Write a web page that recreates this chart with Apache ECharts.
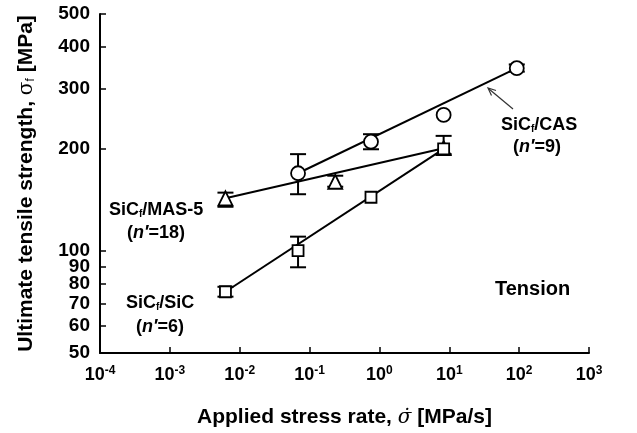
<!DOCTYPE html>
<html>
<head>
<meta charset="utf-8">
<script src="https://cdn.jsdelivr.net/npm/echarts@6/dist/echarts.min.js"></script>
<style>html,body{margin:0;padding:0;background:#fff;}#c{width:637px;height:433px;}</style>
</head>
<body>
<div id="c"></div>
<script>
// ---- data ----
const xTicks = [1e-4, 1e-3, 1e-2, 1e-1, 1e0, 1e1, 1e2, 1e3];
const yTicks = [50, 60, 70, 80, 90, 100, 200, 300, 400, 500];
// [stress rate, strength]
const casPoints = [[0.0684, 169.5], [0.757, 210], [8.3, 252], [92.5, 346]];
const masPoints = [[0.00625, 143], [0.233, 160], [8.3, 201]];
const sicPoints = [[0.00625, 75.8], [0.0684, 100.2], [0.757, 144], [8.3, 200]];
// [stress rate, low, high]
const casErr = [[0.0684, 147, 193], [0.757, 199.5, 221], [92.5, 338, 355]];
const masErr = [[0.00625, 135, 148.6], [0.233, 154.7, 166.7], [8.3, 193, 218.5]];
const sicErr = [[0.00625, 73.3, 78.4], [0.0684, 89.5, 110.2]];
// fitted lines (end points)
const casFit = [[0.0684, 169.5], [92.5, 346]];
const masFit = [[0.00625, 143], [8.3, 201]];
const sicFit = [[0.00625, 75.8], [8.3, 200]];

const FONT = 'Liberation Sans, Arial, Helvetica, sans-serif';
const chart = echarts.init(document.getElementById('c'));

function errSeries(data) {
  return {
    type: 'custom',
    data: data,
    z: 3,
    silent: true,
    renderItem: function (params, api) {
      const x = api.value(0), lo = api.value(1), hi = api.value(2);
      const pLo = api.coord([x, lo]);
      const pHi = api.coord([x, hi]);
      const w = 8;
      const st = { stroke: '#000', lineWidth: 2 };
      return {
        type: 'group',
        children: [
          { type: 'line', shape: { x1: pLo[0], y1: pLo[1], x2: pHi[0], y2: pHi[1] }, style: st },
          { type: 'line', shape: { x1: pLo[0] - w, y1: pLo[1], x2: pLo[0] + w, y2: pLo[1] }, style: st },
          { type: 'line', shape: { x1: pHi[0] - w, y1: pHi[1], x2: pHi[0] + w, y2: pHi[1] }, style: st }
        ]
      };
    }
  };
}
function fitSeries(data) {
  return { type: 'line', data: data, symbol: 'none', z: 2, silent: true,
    lineStyle: { color: '#000', width: 2 } };
}
function ptSeries(data, symbol, size) {
  return { type: 'scatter', data: data, symbol: symbol, symbolSize: size, z: 5, silent: true,
    itemStyle: { color: '#fff', borderColor: '#000', borderWidth: 1.8, opacity: 1 } };
}

const labRich = {
  a: { fontFamily: FONT, fontWeight: 'bold', fontSize: 18, color: '#000' },
  s: { fontFamily: FONT, fontWeight: 'bold', fontSize: 10, color: '#000', verticalAlign: 'bottom', padding: [8, 0, 0, 0] },
  i: { fontFamily: FONT, fontWeight: 'bold', fontStyle: 'italic', fontSize: 18, color: '#000' }
};
function txt(text, x, y, align) {
  return { type: 'text', x: x, y: y, z: 10,
    style: { text: text, rich: labRich, align: align || 'left', verticalAlign: 'middle',
      font: 'bold 18px ' + FONT, fill: '#000' } };
}

const option = {
  animation: false,
  backgroundColor: '#fff',
  grid: { left: 100, top: 14, right: 48, bottom: 80, containLabel: false },
  xAxis: {
    type: 'log', logBase: 10, min: 1e-4, max: 1e3,
    name: '{t|Applied stress rate, }{g|σ̇}{t| [MPa/s]}',
    nameLocation: 'middle', nameGap: 54,
    nameTextStyle: {
      rich: {
        t: { fontFamily: FONT, fontWeight: 'bold', fontSize: 21, color: '#000' },
        g: { fontFamily: 'DejaVu Serif', fontStyle: 'italic', fontSize: 20, color: '#000' }
      }
    },
    axisLine: { show: true, onZero: false, lineStyle: { color: '#000', width: 2 } },
    axisTick: { show: true, inside: true, length: 6, customValues: xTicks, lineStyle: { color: '#000', width: 1.5 } },
    minorTick: { show: false },
    splitLine: { show: false },
    axisLabel: {
      customValues: xTicks, margin: 12,
      formatter: function (v) {
        const e = Math.round(Math.log10(v));
        return '{b|10}{s|' + e + '}';
      },
      rich: {
        b: { fontFamily: FONT, fontWeight: 'bold', fontSize: 18, color: '#000', lineHeight: 20 },
        s: { fontFamily: FONT, fontWeight: 'bold', fontSize: 12, color: '#000', verticalAlign: 'top', padding: [0, 0, 9, 0] }
      }
    }
  },
  yAxis: {
    type: 'log', logBase: 10, min: 50, max: 500,
    name: '{t|Ultimate tensile strength, }{g|σ}{s|f}{t| [MPa]}',
    nameLocation: 'middle', nameGap: 63, nameRotate: 90,
    nameTextStyle: {
      rich: {
        t: { fontFamily: FONT, fontWeight: 'bold', fontSize: 21, color: '#000' },
        g: { fontFamily: 'DejaVu Serif', fontSize: 20, color: '#000' },
        s: { fontFamily: FONT, fontSize: 12, color: '#000', verticalAlign: 'bottom', padding: [8, 0, 0, 0] }
      }
    },
    axisLine: { show: true, lineStyle: { color: '#000', width: 2 } },
    axisTick: { show: true, inside: true, length: 6, customValues: yTicks, lineStyle: { color: '#000', width: 1.5 } },
    minorTick: { show: false },
    splitLine: { show: false },
    axisLabel: {
      customValues: yTicks, margin: 10,
      fontFamily: FONT, fontWeight: 'bold', fontSize: 19, color: '#000',
      lineHeight: 16,
      formatter: function (v) { return String(Math.round(v)); }
    }
  },
  series: [
    fitSeries(casFit), fitSeries(masFit), fitSeries(sicFit),
    errSeries(casErr), errSeries(masErr), errSeries(sicErr),
    ptSeries(casPoints, 'circle', 14),
    ptSeries(masPoints, 'triangle', 14),
    ptSeries(sicPoints, 'rect', 11)
  ],
  graphic: [
    txt('{a|SiC}{s|f}{a|/CAS}', 501, 125),
    txt('{a|(}{i|n′}{a|=9)}', 537, 147, 'center'),
    txt('{a|SiC}{s|f}{a|/MAS-5}', 109, 210),
    txt('{a|(}{i|n′}{a|=18)}', 156, 233, 'center'),
    txt('{a|SiC}{s|f}{a|/SiC}', 126, 303),
    txt('{a|(}{i|n′}{a|=6)}', 160, 327, 'center'),
    { type: 'text', x: 495, y: 289, z: 10,
      style: { text: 'Tension', font: 'bold 20px ' + FONT, fill: '#000', verticalAlign: 'middle' } },
    { type: 'polyline', z: 10, shape: { points: [[513, 109], [489, 89]] },
      style: { stroke: '#333', lineWidth: 1.2, fill: null } },
    { type: 'polyline', z: 10, shape: { points: [[496, 90.5], [488, 88], [491.5, 95.5]] },
      style: { stroke: '#333', lineWidth: 1.2, fill: null } }
  ]
};
chart.setOption(option);
</script>
</body>
</html>
